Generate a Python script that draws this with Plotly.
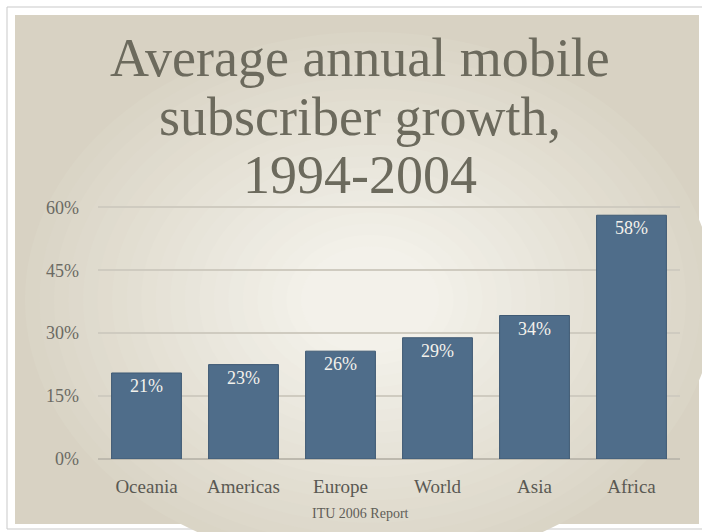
import plotly.graph_objects as go

# ---- data ----
regions = ["Oceania", "Americas", "Europe", "World", "Asia", "Africa"]
growth = [20.5, 22.5, 25.7, 28.9, 34.2, 58.1]
growth_labels = ["21%", "23%", "26%", "29%", "34%", "58%"]
y_ticks = [0, 15, 30, 45, 60]
y_tick_labels = ["0%", "15%", "30%", "45%", "60%"]
title_lines = ["Average annual mobile", "subscriber growth,", "1994-2004"]
source_note = "ITU 2006 Report"

W, H = 702, 532
L, R, T, B = 98, 22, 206, 73
PW, PH = W - L - R, H - T - B


def fx(px):
    return (px - L) / PW


def fy(py):
    return (H - B - py) / PH


SERIF = "Liberation Serif, Times New Roman, serif"

fig = go.Figure()
fig.add_trace(go.Bar(
    x=regions, y=growth, text=growth_labels,
    textposition="inside", insidetextanchor="end", textangle=0,
    textfont=dict(family=SERIF, size=18, color="#f4f2ec"),
    marker=dict(color="#4f6d8a", line=dict(color="#3f5a74", width=1)),
    hoverinfo="skip",
))

shapes = []
# outer white frame
shapes.append(dict(type="rect", xref="paper", yref="paper", layer="below",
                   x0=fx(7), x1=fx(710), y0=fy(529), y1=fy(7),
                   line=dict(color="#c9c9c9", width=1), fillcolor="#ffffff"))
# paper sheet base
shapes.append(dict(type="rect", xref="paper", yref="paper", layer="below",
                   x0=fx(15), x1=fx(699), y0=fy(524), y1=fy(15),
                   line=dict(width=0), fillcolor="#d8d2c3"))
# smooth-ish radial lightening (styling only)
c_out = (0xda, 0xd5, 0xc6)
c_in = (0xf3, 0xf1, 0xea)
n_steps = 20
cx, cy = 370, 300
rx0, ry0 = 345, 268
for i in range(n_steps):
    t = i / (n_steps - 1)
    rx = rx0 * (1 - 0.8 * t)
    ry = ry0 * (1 - 0.8 * t)
    col = "#%02x%02x%02x" % tuple(round(a + (b - a) * t) for a, b in zip(c_out, c_in))
    shapes.append(dict(type="circle", xref="paper", yref="paper", layer="below",
                       x0=fx(cx - rx), x1=fx(cx + rx), y0=fy(cy + ry), y1=fy(cy - ry),
                       line=dict(width=0), fillcolor=col))

annotations = []
title_centers = [58, 117, 175]
for line, yc in zip(title_lines, title_centers):
    annotations.append(dict(text=line, xref="paper", yref="paper",
                            x=fx(360), y=fy(yc), xanchor="center", yanchor="middle",
                            showarrow=False,
                            font=dict(family=SERIF, size=54, color="#6c6a5d")))
annotations.append(dict(text=source_note, xref="paper", yref="paper",
                        x=fx(360), y=fy(513), xanchor="center", yanchor="middle",
                        showarrow=False,
                        font=dict(family=SERIF, size=14, color="#5f5e58")))

fig.update_layout(
    width=W, height=H,
    margin=dict(l=L, r=R, t=T, b=B, pad=0),
    paper_bgcolor="#ffffff",
    plot_bgcolor="rgba(0,0,0,0)",
    showlegend=False,
    bargap=0.28,
    shapes=shapes,
    annotations=annotations,
    xaxis=dict(showgrid=False, showline=False, ticks="", zeroline=False,
               tickfont=dict(family=SERIF, size=19, color="#5a5953"),
               ticklabelstandoff=14),
    yaxis=dict(range=[0, 60.3], tickvals=y_ticks, ticktext=y_tick_labels,
               showgrid=True, gridcolor="#cfcbc0", gridwidth=1.5,
               zeroline=True, zerolinecolor="#bdb9ae", zerolinewidth=1.5,
               showline=False, ticks="",
               tickfont=dict(family=SERIF, size=18, color="#6b6a63"),
               ticklabelstandoff=18),
)

fig.write_html("out.html")
